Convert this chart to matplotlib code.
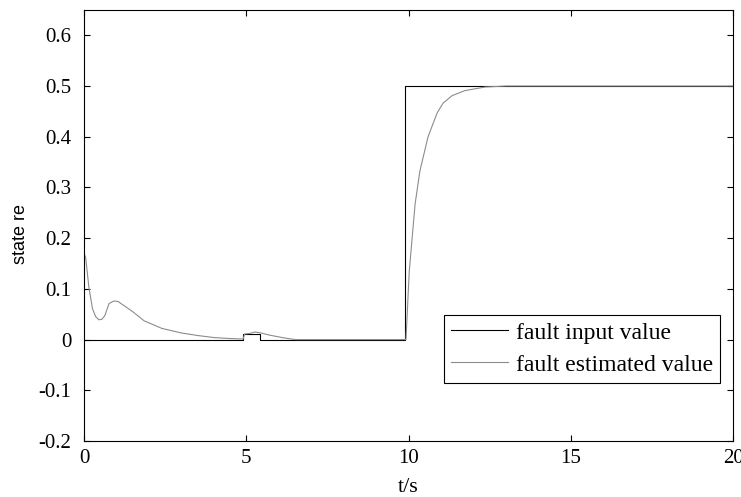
import numpy as np
import matplotlib
matplotlib.use('Agg')
import matplotlib.pyplot as plt

plt.rcParams['font.family'] = ['Liberation Serif', 'DejaVu Serif']
plt.rcParams['axes.unicode_minus'] = False

# fault input (step signal)
t_in = [0, 4.9, 4.9, 5.42, 5.42, 9.89, 9.89, 20]
f_in = [0, 0, 0.01, 0.01, 0, 0, 0.5, 0.5]

# fault estimate
t_est = [0, 0.05, 0.15, 0.26, 0.36, 0.46, 0.55, 0.64, 0.77, 0.92, 1.05, 1.23,
         1.5, 1.85, 2.4, 3.0, 3.5, 4.0, 4.5, 4.9, 4.95, 5.1, 5.27, 5.45, 5.7,
         6.1, 6.5, 9.92, 10.02, 10.2, 10.35, 10.6, 10.88, 11.06, 11.34, 11.74,
         12.36, 13.0, 20]
f_est = [0.17, 0.162, 0.103, 0.061, 0.045, 0.039, 0.040, 0.047, 0.071, 0.076,
         0.075, 0.067, 0.055, 0.037, 0.022, 0.013, 0.008, 0.004, 0.002, 0.001,
         0.011, 0.012, 0.015, 0.013, 0.009, 0.004, 0.0, 0.0, 0.134, 0.267, 0.333,
         0.40, 0.447, 0.466, 0.481, 0.491, 0.498, 0.5, 0.5]

fig = plt.figure(figsize=(7.41, 4.97), dpi=100)
ax = fig.add_axes([0.1134, 0.1127, 0.876, 0.8673])

ax.plot(t_in, f_in, color='black', lw=0.8, label='fault input value')
ax.plot(t_est, f_est, color='#8c8c8c', lw=0.8, label='fault estimated value')

ax.set_xlim(0, 20)
ax.set_ylim(-0.2, 0.65)
ax.set_xticks([0, 5, 10, 15, 20])
ax.set_yticks(np.round(np.arange(-0.2, 0.61, 0.1), 1))
ax.set_yticklabels(['-0.2', '-0.1', '0', '0.1', '0.2', '0.3', '0.4', '0.5', '0.6'])
ax.tick_params(direction='in', top=True, right=True, length=4, width=0.8,
               labelsize=15)
ax.tick_params(axis='y', pad=9)
ax.tick_params(axis='x', pad=6)
for s in ax.spines.values():
    s.set_linewidth(0.8)

ax.set_xlabel('t/s', fontsize=16, labelpad=7)
ax.set_ylabel('state re', fontsize=13, family='Liberation Sans')
ax.yaxis.set_label_coords(-0.085, 0.48)

leg = ax.legend(loc='lower right', bbox_to_anchor=(0.98, 0.135), fontsize=17,
                fancybox=False, edgecolor='black', framealpha=1,
                handlelength=2.4, handletextpad=0.35, borderpad=0.3,
                labelspacing=0.45, borderaxespad=0)
leg.get_frame().set_linewidth(0.8)

fig.savefig('out.png', dpi=100)
